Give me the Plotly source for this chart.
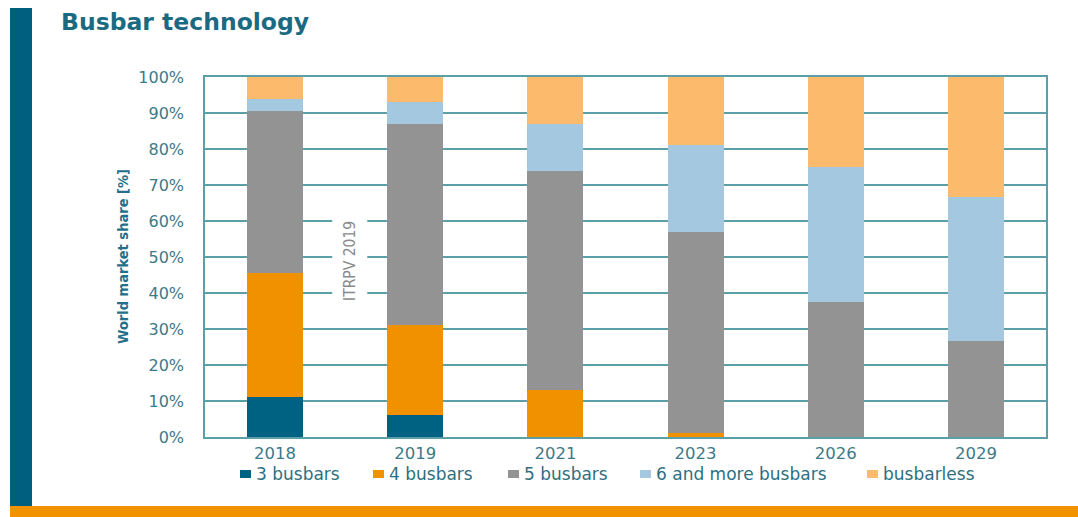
import plotly.graph_objects as go

# Market share of busbar technologies (ITRPV 2019), % of world production
years = ["2018", "2019", "2021", "2023", "2026", "2029"]
busbars_3 = [11, 6, 0, 0, 0, 0]
busbars_4 = [34.5, 25, 13, 1, 0, 0]
busbars_5 = [45, 56, 61, 56, 37.5, 26.7]
busbars_6_plus = [3.5, 6, 13, 24, 37.5, 40]
busbarless = [6, 7, 13, 19, 25, 33.3]

series_names = ["3 busbars", "4 busbars", "5 busbars", "6 and more busbars", "busbarless"]
series_values = [busbars_3, busbars_4, busbars_5, busbars_6_plus, busbarless]
series_colors = ["#006282", "#f29100", "#939393", "#a3c8df", "#fbba6c"]

y_ticks = [0, 10, 20, 30, 40, 50, 60, 70, 80, 90, 100]
y_tick_text = [f"{v}%" for v in y_ticks]

W, H = 1078, 517
L, R, T, B = 205, 32, 77, 80
plot_w, plot_h = W - L - R, H - T - B

def px_x(px):
    return (px - L) / plot_w

def px_y(py):
    return (H - B - py) / plot_h

TEAL = "#5d9fa6"
LABEL = "#3c7a88"
WIDE = "DejaVu Sans, Verdana, sans-serif"
NARROW = "Liberation Sans Narrow, DejaVu Sans Condensed, Liberation Sans, Arial, sans-serif"

fig = go.Figure()
for name, vals, col in zip(series_names, series_values, series_colors):
    fig.add_trace(go.Bar(x=years, y=vals, name=name, marker=dict(color=col, line=dict(width=0)),
                         showlegend=False))

shapes = [
    # left accent bar
    dict(type="rect", xref="paper", yref="paper", x0=px_x(10), x1=px_x(32), y0=px_y(506), y1=px_y(8),
         fillcolor="#005f7f", line=dict(width=0), layer="above"),
    # bottom accent band
    dict(type="rect", xref="paper", yref="paper", x0=px_x(10), x1=px_x(W + 5), y0=px_y(H + 5), y1=px_y(506),
         fillcolor="#f39200", line=dict(width=0), layer="above"),
]

annotations = [
    dict(text="<b>Busbar technology</b>", xref="paper", yref="paper", x=px_x(59), y=px_y(22),
         xanchor="left", yanchor="middle", showarrow=False,
         font=dict(family=WIDE, size=23.5, color="#1a6a82")),
    dict(text="<b>World market share [%]</b>", xref="paper", yref="paper", x=px_x(123), y=px_y(257),
         xanchor="center", yanchor="middle", textangle=-90, showarrow=False,
         font=dict(family=NARROW, size=14.5, color="#23708a")),
    dict(text="ITRPV 2019", xref="x", yref="y", x=0.53, y=49, textangle=-90, showarrow=False,
         bgcolor="white", borderpad=8,
         font=dict(family=NARROW, size=15.5, color="#8a8a8a")),
]

# legend drawn as swatches with labels below the axis
legend_marker_x = [240, 373, 508, 640, 867]
for name, col, mx in zip(series_names, series_colors, legend_marker_x):
    shapes.append(dict(type="rect", xref="paper", yref="paper", x0=px_x(mx), x1=px_x(mx + 11),
                       y0=px_y(478), y1=px_y(470), fillcolor=col, line=dict(width=0)))
    annotations.append(dict(text=name, xref="paper", yref="paper", x=px_x(mx + 14), y=px_y(474),
                            xanchor="left", yanchor="middle", showarrow=False,
                            font=dict(family=WIDE, size=17, color="#2f6f80")))

fig.update_layout(
    barmode="stack",
    bargap=0.6,
    width=W, height=H,
    margin=dict(l=L, r=R, t=T, b=B),
    paper_bgcolor="white",
    plot_bgcolor="white",
    shapes=shapes,
    annotations=annotations,
    showlegend=False,
)
fig.update_xaxes(type="category", showgrid=False, showline=True, mirror=True, linecolor=TEAL,
                 linewidth=1.5, ticks="", layer="below traces",
                 tickfont=dict(family=WIDE, size=16.5, color=LABEL))
fig.update_yaxes(range=[0, 100], tickvals=y_ticks, ticktext=y_tick_text, showgrid=True,
                 gridcolor=TEAL, gridwidth=1.5, zeroline=False, showline=True, mirror=True,
                 linecolor=TEAL, linewidth=1.5, ticks="", layer="below traces",
                 ticklabelstandoff=16,
                 tickfont=dict(family=WIDE, size=16, color=LABEL))

fig.write_html("out.html")
